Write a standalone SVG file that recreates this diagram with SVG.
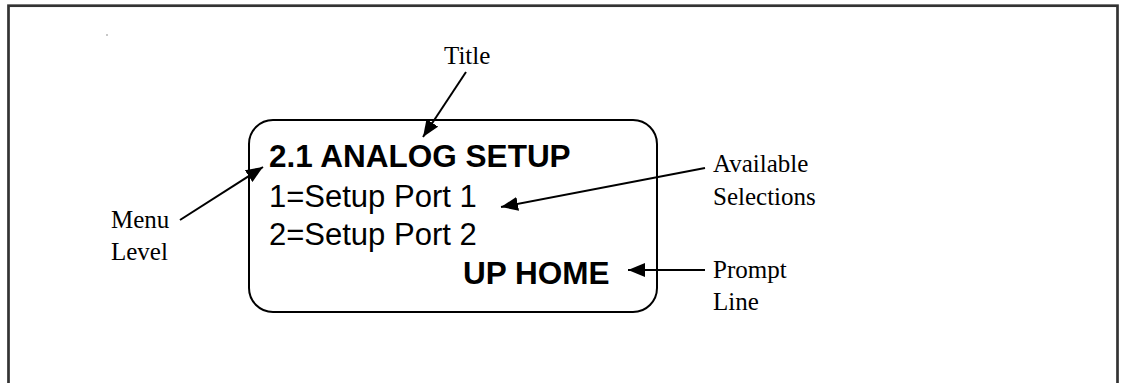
<svg xmlns="http://www.w3.org/2000/svg" width="1124" height="383" viewBox="0 0 1124 383">
<style>
.lbl{font-family:"Liberation Serif","Times New Roman",serif;font-size:25px;fill:#000}
.lcd{font-family:"Liberation Sans",Arial,sans-serif;font-size:31px;fill:#000}
.b{font-weight:bold;font-size:31.5px}
.con{stroke:#000;stroke-width:2;fill:none}
</style>
<defs>
<marker id="ah" markerUnits="userSpaceOnUse" markerWidth="18" markerHeight="14" refX="17" refY="7" orient="auto">
<path d="M0,0 L17,7 L0,14 z" fill="#000"/>
</marker>
</defs>
<rect x="0" y="0" width="1124" height="383" fill="#fff"/>
<rect id="frame" x="8.5" y="5.7" width="1109" height="420" fill="none" stroke="#333" stroke-width="2.7"/>
<circle cx="107" cy="35" r="0.7" fill="#666"/>
<g id="display">
<rect x="249" y="120" width="408" height="192" rx="24" ry="24" fill="none" stroke="#000" stroke-width="2"/>
<text class="lcd b" x="269" y="167">2.1 ANALOG SETUP</text>
<text class="lcd" x="269" y="206.5">1=Setup Port 1</text>
<text class="lcd" x="269" y="245">2=Setup Port 2</text>
<text class="lcd b" x="463" y="283.5">UP HOME</text>
</g>
<g id="title-label"><text class="lbl" x="444" y="63.5">Title</text></g>
<g id="menu-label"><text class="lbl" x="111" y="227.5">Menu</text><text class="lbl" x="111" y="260">Level</text></g>
<g id="avail-label"><text class="lbl" x="713" y="172">Available</text><text class="lbl" x="713" y="205">Selections</text></g>
<g id="prompt-label"><text class="lbl" x="713" y="278">Prompt</text><text class="lbl" x="713" y="310">Line</text></g>
<g id="connectors">
<line class="con" x1="466" y1="72" x2="423" y2="137" marker-end="url(#ah)"/>
<line class="con" x1="180" y1="220" x2="263" y2="167" marker-end="url(#ah)"/>
<line class="con" x1="705" y1="168" x2="501" y2="207" marker-end="url(#ah)"/>
<line class="con" x1="705" y1="270" x2="628" y2="270" marker-end="url(#ah)"/>
</g>
</svg>
